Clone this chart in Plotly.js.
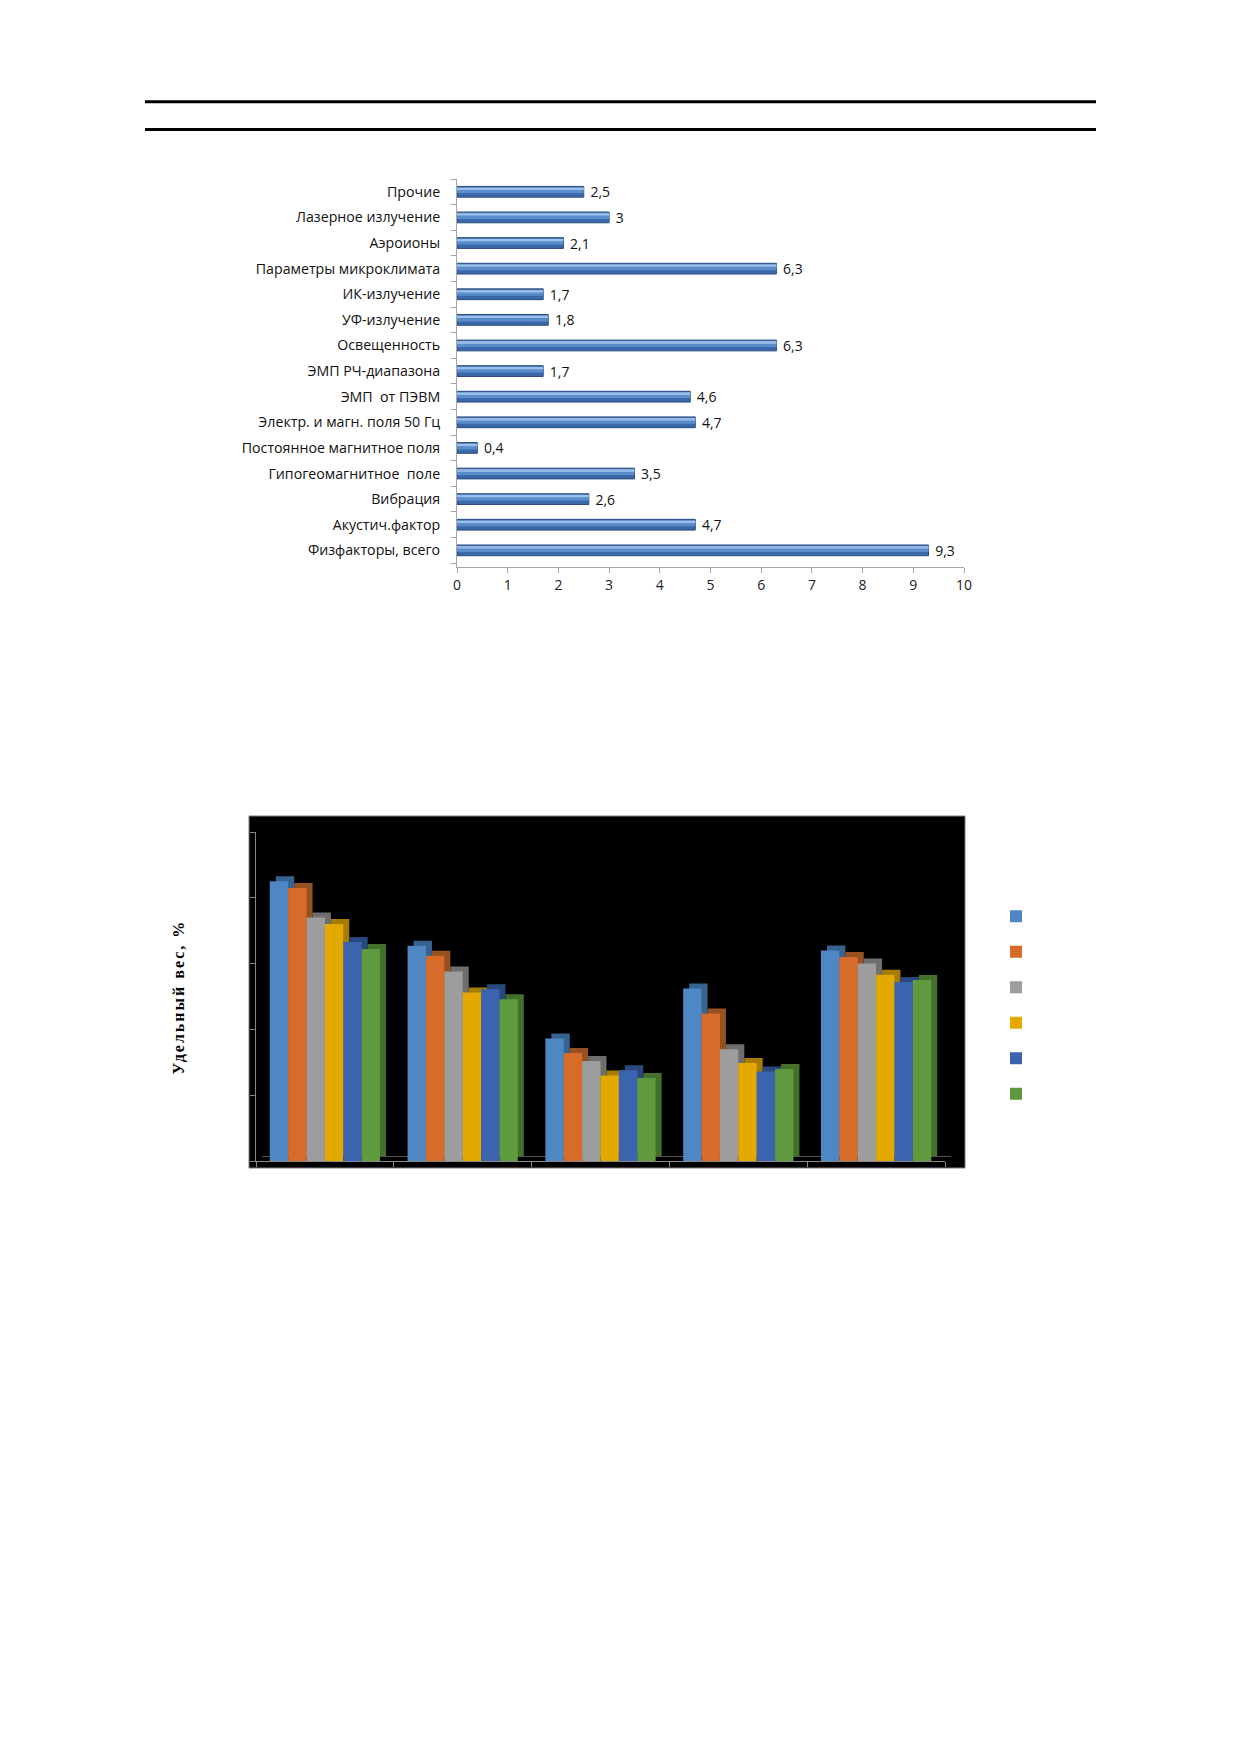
<!DOCTYPE html>
<html>
<head>
<meta charset="utf-8">
<script src="https://cdn.plot.ly/plotly-3.0.1.min.js"></script>
<style>
  body { margin: 0; background: #fff; }
  #chart { width: 1239px; height: 1752px; }
  .annotation-text { letter-spacing: 2px; }
</style>
</head>
<body>
<div id="chart"></div>
<script>
// chart 1: factors, bottom to top
const factors = [
    "Физфакторы, всего",
    "Акустич.фактор",
    "Вибрация",
    "Гипогеомагнитное \u00a0поле",
    "Постоянное магнитное поля",
    "Электр. и магн. поля 50 Гц",
    "ЭМП \u00a0от ПЭВМ",
    "ЭМП РЧ-диапазона",
    "Освещенность",
    "УФ-излучение",
    "ИК-излучение",
    "Параметры микроклимата",
    "Аэроионы",
    "Лазерное излучение",
    "Прочие"
]
const factorShares = [9.3, 4.7, 2.6, 3.5, 0.4, 4.7, 4.6, 1.7, 6.3, 1.8, 1.7, 6.3, 2.1, 3, 2.5]

// chart 2: five groups, six series (labels not legible in the picture)
const groups = ["I", "II", "III", "IV", "V"]
const series1 = [42.5, 32.7, 18.6, 26.2, 32.0]
const series2 = [41.5, 31.2, 16.4, 22.4, 31.0]
const series3 = [37.0, 28.8, 15.2, 17.0, 30.0]
const series4 = [36.0, 25.6, 13.0, 14.9, 28.3]
const series5 = [33.3, 26.1, 13.8, 13.6, 27.2]
const series6 = [32.2, 24.6, 12.6, 14.0, 27.5]

const W = 1239, H = 1752
function px(x) { return x / W }
function py(y) { return 1 - y / H }

const F = "Open Sans, Liberation Sans, sans-serif"

let data = []

// horizontal bars, three stripes for a rounded look
const labels = factorShares.map(v => "\u00a0" + String(v).replace(".", ","))
data.push({type: "bar", orientation: "h", x: factorShares, y: factors, xaxis: "x", yaxis: "y",
    width: 0.42, offset: -0.21, marker: {color: "#3a68a8", line: {color: "#2a4c80", width: 1}},
    text: labels, textposition: "outside", cliponaxis: false, constraintext: "none",
    textfont: {family: F, size: 14, color: "#111"}, showlegend: false, hoverinfo: "skip"})
data.push({type: "bar", orientation: "h", x: factorShares, y: factors, xaxis: "x", yaxis: "y",
    width: 0.24, offset: -0.06, marker: {color: "#5b8dcc"}, showlegend: false, hoverinfo: "skip"})
data.push({type: "bar", orientation: "h", x: factorShares, y: factors, xaxis: "x", yaxis: "y",
    width: 0.09, offset: 0.07, marker: {color: "#9cc0ea"}, showlegend: false, hoverinfo: "skip"})

// grouped columns: dark copy behind (x2/y2, shifted) and the front faces (x3/y3)
const allSeries = [series1, series2, series3, series4, series5, series6]
const frontColors = ["#4f87c5", "#d66b2a", "#9d9d9d", "#e3a900", "#3c64ae", "#5f9a3e"]
const sideColors = ["#36638f", "#97501f", "#6e6e6e", "#a67c00", "#2a4880", "#43702a"]

for (let i = 0; i < allSeries.length; i++) {
    data.push({type: "bar", x: groups, y: allSeries[i], xaxis: "x2", yaxis: "y2",
        marker: {color: sideColors[i]}, showlegend: false, hoverinfo: "skip"})
}
for (let i = 0; i < allSeries.length; i++) {
    data.push({type: "bar", x: groups, y: allSeries[i], xaxis: "x3", yaxis: "y3",
        name: "\u00a0", marker: {color: frontColors[i]}, hoverinfo: "skip"})
}

const layout = {
    width: W, height: H,
    margin: {l: 0, r: 0, t: 0, b: 0},
    paper_bgcolor: "#fff", plot_bgcolor: "rgba(0,0,0,0)",
    barmode: "group", bargap: 0.2, bargroupgap: 0,
    font: {family: F},
    xaxis: {domain: [px(457), px(964)], range: [0, 10], dtick: 1, tick0: 0, anchor: "y",
            ticks: "outside", ticklen: 5, tickcolor: "#a6a6a6",
            showline: true, linecolor: "#a6a6a6", showgrid: false, zeroline: false,
            tickfont: {family: F, size: 14, color: "#222"}},
    yaxis: {domain: [py(567), py(179)], type: "category", categoryorder: "array", categoryarray: factors,
            range: [-0.65, 14.5], anchor: "x",
            ticks: "outside", tickson: "boundaries", ticklen: 5, tickcolor: "#a6a6a6",
            showline: true, linecolor: "#a6a6a6", showgrid: false, ticklabelstandoff: 13,
            tickfont: {family: F, size: 14.2, color: "#111"}},
    xaxis2: {domain: [px(262), px(951)], anchor: "y2", showticklabels: false, ticks: "",
             showline: true, linecolor: "#555", showgrid: false, zeroline: false},
    yaxis2: {domain: [py(1156), py(827)], range: [0, 50], anchor: "x2", visible: false},
    xaxis3: {domain: [px(256), px(945)], anchor: "y3", showticklabels: false,
             ticks: "outside", tickson: "boundaries", ticklen: 5, tickcolor: "#888",
             showline: true, linecolor: "#888", showgrid: false, zeroline: false},
    yaxis3: {domain: [py(1161), py(832)], range: [0, 50], dtick: 10, anchor: "x3",
             ticks: "outside", ticklen: 5, tickcolor: "#888", showticklabels: false,
             showline: true, linecolor: "#888", showgrid: false, zeroline: false},
    legend: {x: px(996), y: py(893.5), xanchor: "left", yanchor: "top",
             font: {family: F, size: 25, color: "#fff"}, bgcolor: "rgba(0,0,0,0)"},
    shapes: [
        {type: "line", xref: "paper", yref: "paper", x0: px(145), x1: px(1096), y0: py(101.7), y1: py(101.7),
         line: {color: "#000", width: 3}},
        {type: "line", xref: "paper", yref: "paper", x0: px(145), x1: px(1096), y0: py(129.5), y1: py(129.5),
         line: {color: "#000", width: 3}},
        {type: "rect", xref: "paper", yref: "paper", x0: px(249), x1: px(965), y0: py(1168), y1: py(816),
         fillcolor: "#000", line: {color: "#7f7f7f", width: 1}, layer: "below"}
    ],
    annotations: [
        {text: "Удельный вес, %", xref: "paper", yref: "paper", x: px(168), y: py(997),
         textangle: -90, showarrow: false,
         font: {family: "Liberation Serif, DejaVu Serif, serif", size: 16, weight: "bold", color: "#000"}}
    ]
}

Plotly.newPlot("chart", data, layout, {displayModeBar: false, staticPlot: true})
</script>
</body>
</html>
